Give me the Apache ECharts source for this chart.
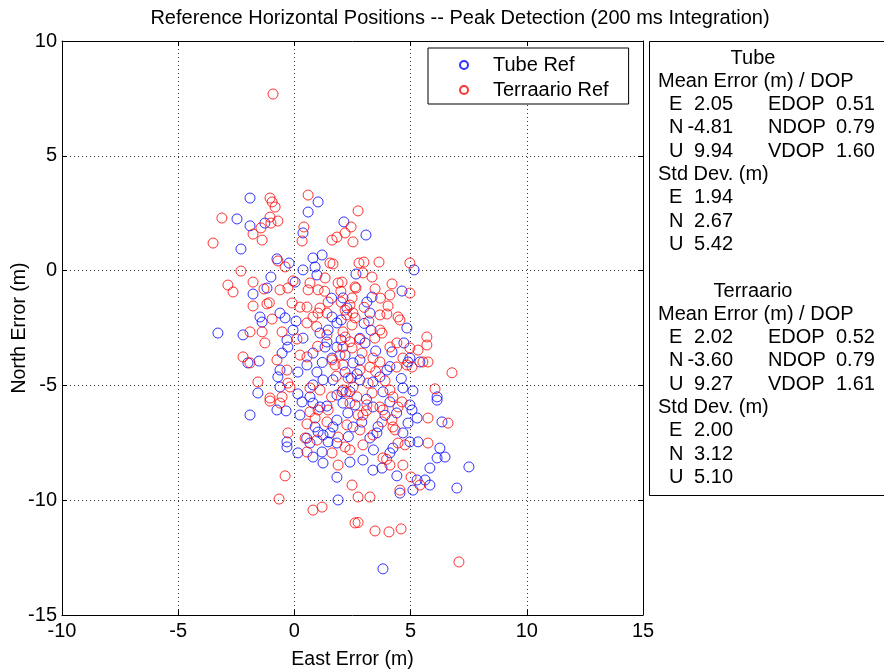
<!DOCTYPE html>
<html>
<head>
<meta charset="utf-8">
<script src="https://cdn.jsdelivr.net/npm/echarts@6/dist/echarts.min.js"></script>
<style>
  html, body { margin: 0; padding: 0; background: #fff; }
  #chart { width: 884px; height: 671px; }
</style>
</head>
<body>
<div id="chart"></div>
<script>
// Horizontal position errors (East, North) in metres
const tubeRef = [
  [-1.91,3.16],[1.02,2.99],[-2.47,2.25],[-1.91,1.95],[-1.27,2.07],[-2.30,0.94],[-0.75,0.51],[-0.23,0.33],
  [0.37,1.64],[0.59,2.55],[0.37,0.03],[0.80,0.55],[0.89,0.16],[1.19,0.68],[0.97,-0.19],[-1.01,-0.28],
  [-1.18,-0.76],[-1.78,-1.02],[0.03,-0.50],[2.13,2.12],[3.08,1.55],[5.15,0.03],[2.65,-0.15],[4.63,-0.89],
  [3.34,-1.15],[2.09,-1.19],[-3.29,-2.72],[-2.21,-2.80],[-1.48,-2.02],[-1.39,-2.24],[-0.62,-1.85],[-0.40,-2.06],
  [-0.06,-2.59],[-0.32,-3.02],[-0.28,-3.33],[-0.53,-3.59],[-2.00,-4.02],[-1.52,-3.94],[-0.62,-4.33],[-0.71,-4.63],
  [-0.62,-5.07],[0.15,-4.42],[0.54,-4.11],[0.97,-4.42],[0.80,-3.59],[1.32,-3.33],[1.10,-2.72],[1.45,-2.59],
  [1.62,-2.02],[1.83,-2.28],[0.37,-2.94],[-1.57,-5.33],[0.15,-5.37],[0.67,-5.50],[0.80,-4.98],[1.23,-4.76],
  [1.66,-4.76],[1.83,-5.42],[1.40,-3.11],[1.83,-3.33],[0.07,-2.20],[1.62,-3.81],[3.25,-1.85],[3.12,-1.37],
  [4.84,-2.50],[4.71,-3.15],[4.20,-3.54],[4.97,-3.81],[5.40,-3.98],[4.89,-3.98],[2.82,-3.89],[2.52,-4.02],
  [2.18,-4.42],[3.04,-3.15],[3.98,-4.33],[3.68,-4.63],[2.05,-5.28],[3.81,-5.28],[4.67,-5.11],[5.10,-5.24],
  [6.14,-5.50],[3.38,-4.85],[2.82,-4.76],[-1.91,-6.29],[-0.75,-6.07],[-0.36,-6.11],[-0.32,-7.46],[-0.32,-7.68],
  [0.24,-6.29],[0.33,-5.72],[0.15,-7.94],[0.80,-8.12],[1.23,-8.38],[1.19,-7.90],[0.89,-6.81],[1.02,-7.03],
  [1.23,-7.16],[1.53,-7.07],[1.66,-6.81],[1.45,-7.46],[1.83,-7.51],[0.67,-7.51],[0.80,-5.77],[1.10,-5.94],
  [1.83,-6.51],[1.83,-9.00],[2.09,-5.77],[2.61,-5.85],[3.38,-5.94],[4.11,-5.72],[4.97,-5.85],[5.06,-6.07],
  [5.28,-6.42],[4.89,-6.64],[4.67,-7.07],[4.97,-7.46],[5.32,-7.46],[3.55,-7.07],[3.25,-7.29],[2.52,-6.81],
  [4.24,-7.73],[4.11,-7.94],[2.39,-8.34],[2.95,-8.25],[3.77,-8.60],[3.38,-8.69],[4.41,-8.94],[5.28,-9.12],
  [5.62,-9.12],[5.83,-9.34],[5.10,-9.56],[6.35,-6.59],[6.26,-7.73],[6.14,-8.16],[6.48,-8.12],[5.83,-8.60],
  [7.51,-8.55],[6.99,-9.47],[4.54,-9.69],[6.14,-5.64],[1.88,-9.99],[3.81,-12.99],
  [2.82,-2.95],[4.11,-4.18],[2.39,-5.27],[0.53,-7.30],[2.32,-7.23],[3.40,-7.81],[2.26,-1.63],[2.01,-2.15],
  [2.18,-3.68],[2.01,-3.02],[2.44,-4.68],[3.00,-2.30],[3.50,-3.50],[2.70,-4.50],[3.10,-5.60],[3.90,-6.30],
  [2.30,-6.20],[1.40,-5.90],[1.20,-4.00],[2.90,-6.60],[3.60,-6.80],[4.40,-6.20],[4.60,-4.70],[3.30,-2.60],
  [1.60,-1.20]
];

const terraarioRef = [
  [-0.92,7.69],[-1.05,3.16],[0.59,3.29],[-3.12,2.29],[-3.50,1.20],[-1.78,1.59],[-1.44,1.86],[-1.39,1.33],
  [-1.05,2.33],[-1.01,2.07],[-0.71,2.16],[-0.96,2.99],[-0.83,2.77],[0.41,1.90],[0.33,1.29],[-0.71,0.42],
  [-0.40,0.16],[-1.78,-0.50],[-2.86,-0.63],[-2.64,-0.93],[-1.31,-0.80],[-0.62,-0.84],[-0.28,-0.76],[-0.06,-0.45],
  [0.67,-0.54],[0.59,-0.84],[1.02,-0.84],[1.32,-0.32],[1.53,0.33],[1.66,0.29],[1.62,1.33],[1.83,1.46],
  [1.88,-0.54],[2.74,2.60],[2.44,1.90],[2.18,1.64],[2.52,1.25],[2.78,0.33],[2.99,0.37],[3.64,0.37],
  [4.97,0.33],[2.95,-0.10],[3.34,-0.28],[2.05,-0.50],[2.61,-0.71],[2.65,-0.76],[3.47,-0.80],[4.20,-0.58],
  [4.11,-1.06],[4.97,-0.98],[2.48,-1.19],[-2.30,-0.02],
  [-1.78,-1.54],[-1.18,-1.45],[-0.10,-1.41],[0.24,-1.59],[0.54,-1.59],[-0.96,-2.11],[-1.91,-2.67],[-1.39,-2.67],
  [-1.27,-3.15],[-2.21,-3.76],[-1.91,-4.02],[-0.75,-3.89],[-0.32,-4.33],[0.24,-3.68],[0.54,-3.76],[0.11,-2.98],
  [-0.53,-2.67],[0.54,-2.28],[0.80,-2.02],[1.02,-1.85],[1.10,-1.63],[1.40,-1.85],[-1.57,-4.85],[-0.28,-4.90],
  [-0.19,-5.07],[-1.05,-5.55],[-0.53,-5.50],[0.67,-5.11],[1.62,-3.89],[1.75,-4.11],[1.10,-5.20],[1.45,-1.37],
  [4.03,-1.54],[3.68,-1.93],[3.98,-1.89],[4.46,-2.02],[4.54,-2.15],[3.68,-2.59],[3.77,-2.72],[3.46,-2.94],
  [2.39,-1.50],[2.52,-1.85],[2.61,-2.06],[2.48,-2.37],[2.09,-2.67],[2.18,-2.89],[2.09,-3.33],[2.48,-3.37],
  [2.91,-3.59],[3.38,-3.81],[3.68,-3.98],[4.11,-3.33],[4.41,-3.15],[4.67,-3.81],[4.97,-3.37],[5.32,-3.46],
  [5.70,-2.89],[5.70,-3.24],[5.53,-3.98],[5.75,-3.98],[4.84,-4.11],[5.06,-4.20],[6.78,-4.45],[6.05,-5.15],
  [3.25,-4.20],[2.82,-4.33],[2.31,-4.68],[2.52,-5.07],[3.17,-4.90],[3.34,-5.33],[2.69,-5.50],[2.09,-5.20],
  [4.11,-5.20],[4.24,-5.50],[2.09,-4.11],
  [-1.05,-5.68],[-0.62,-5.77],[-0.28,-7.07],[0.46,-7.29],[0.54,-7.90],[0.54,-6.68],[0.67,-6.15],[1.02,-6.07],
  [0.89,-6.42],[1.45,-6.07],[1.40,-6.59],[0.97,-7.38],[1.62,-7.94],[1.88,-7.25],[1.88,-8.47],[-0.40,-8.94],
  [-0.66,-9.95],
  [2.39,-5.77],[3.12,-5.85],[3.68,-5.94],[3.81,-6.07],[4.46,-5.94],[4.63,-5.72],[2.74,-6.29],[2.95,-6.29],
  [3.77,-6.59],[4.20,-6.50],[4.24,-6.81],[2.26,-6.72],[2.82,-6.94],[2.18,-7.68],[2.39,-7.81],[2.95,-7.59],
  [3.81,-8.16],[4.11,-8.47],[4.67,-8.47],[4.46,-7.51],[4.76,-7.59],[5.75,-6.42],[5.75,-7.51],[6.61,-6.64],
  [5.02,-8.99],[5.40,-9.34],[4.54,-9.56],[2.48,-9.34],[2.74,-9.86],[3.25,-9.86],[3.38,-7.16],
  [0.80,-10.43],[1.19,-10.30],[2.61,-10.99],[2.74,-10.97],[3.47,-11.34],[4.07,-11.38],[4.59,-11.25],[7.08,-12.69],
  [2.25,-1.93],[2.39,-3.10],[0.96,-2.44],[-1.08,-1.40],[4.33,-6.94],[3.97,-8.22],[2.01,-1.37],[2.18,-1.72],
  [1.96,-3.68],[2.22,-5.29],[3.00,-1.60],[3.20,-2.20],[2.80,-3.00],[3.50,-4.40],[1.40,-2.80],[1.00,-3.30],
  [3.90,-4.80],[4.40,-4.20],[2.00,-0.90],[3.70,-1.20],[1.30,-0.90],[1.80,-4.60],[3.10,-6.10],[1.60,-5.50]
];

// Summary statistics shown in the side panel
const statBlocks = [
  { name: 'Tube',      mean: ['2.05', '-4.81', '9.94'], dop: ['0.51', '0.79', '1.60'], std: ['1.94', '2.67', '5.42'] },
  { name: 'Terraario', mean: ['2.02', '-3.60', '9.27'], dop: ['0.52', '0.79', '1.61'], std: ['2.00', '3.12', '5.10'] }
];
const axisLetters = ['E', 'N', 'U'];
const dopNames = ['EDOP', 'NDOP', 'VDOP'];

const FONT = '"Liberation Sans", Arial, Helvetica, sans-serif';
const FS = 20;

function txt(text, x, y, align) {
  return {
    type: 'text',
    style: {
      text: text, x: x, y: y,
      font: FS + 'px ' + FONT,
      fill: '#000',
      align: align || 'left', verticalAlign: 'middle',
      textAlign: align || 'left', textVerticalAlign: 'middle'
    }
  };
}

// Statistics panel: boxed text block to the right of the plot
const panel = [{
  type: 'rect',
  shape: { x: 649.5, y: 41.5, width: 250, height: 454 },
  style: { fill: '#fff', stroke: '#000', lineWidth: 1 }
}];
const lineH = 23.3;
statBlocks.forEach(function (b, bi) {
  const y0 = 58 + bi * 10 * lineH;
  panel.push(txt(b.name, 753, y0, 'center'));
  panel.push(txt('Mean Error (m) / DOP', 658, y0 + lineH));
  for (let i = 0; i < 3; i++) {
    const y = y0 + (2 + i) * lineH;
    panel.push(txt(axisLetters[i], 669, y));
    panel.push(txt(b.mean[i], 733, y, 'right'));
    panel.push(txt(dopNames[i], 768, y));
    panel.push(txt(b.dop[i], 836, y));
  }
  panel.push(txt('Std Dev. (m)', 658, y0 + 5 * lineH));
  for (let i = 0; i < 3; i++) {
    const y = y0 + (6 + i) * lineH;
    panel.push(txt(axisLetters[i], 669, y));
    panel.push(txt(b.std[i], 733, y, 'right'));
  }
});

const chart = echarts.init(document.getElementById('chart'), null, { renderer: 'canvas' });

const tickStyle = { show: true, inside: true, length: 5, lineStyle: { color: '#000', width: 1 } };
const lineStyle = { show: true, onZero: false, lineStyle: { color: '#000', width: 1 } };
const gridLine = { show: true, lineStyle: { color: '#333', width: 1, type: [1, 3] } };
const labelStyle = { color: '#000', fontSize: FS, fontFamily: FONT };

chart.setOption({
  animation: false,
  backgroundColor: '#fff',
  title: {
    text: 'Reference Horizontal Positions -- Peak Detection (200 ms Integration)',
    left: 460, top: 8, padding: 0, textAlign: 'center',
    textStyle: { color: '#000', fontSize: 20, fontWeight: 'normal', fontFamily: FONT }
  },
  grid: { left: 62, top: 41, width: 581, height: 574, containLabel: false, outerBoundsMode: 'none' },
  xAxis: [
    {
      type: 'value', min: -10, max: 15, interval: 5, position: 'bottom',
      axisLine: lineStyle, axisTick: tickStyle, splitLine: gridLine,
      axisLabel: Object.assign({ margin: 6 }, labelStyle),
      name: 'East Error (m)', nameLocation: 'middle', nameGap: 35,
      nameTextStyle: { color: '#000', fontSize: 19.5, fontFamily: FONT }
    },
    {
      type: 'value', min: -10, max: 15, interval: 5, position: 'top',
      axisLine: lineStyle, axisTick: tickStyle, splitLine: { show: false }, axisLabel: { show: false }
    }
  ],
  yAxis: [
    {
      type: 'value', min: -15, max: 10, interval: 5, position: 'left',
      axisLine: lineStyle, axisTick: tickStyle, splitLine: gridLine,
      axisLabel: Object.assign({ margin: 5 }, labelStyle),
      name: 'North Error (m)', nameLocation: 'middle', nameGap: 32, nameRotate: 90,
      nameMoveOverlap: false,
      nameTextStyle: { color: '#000', fontSize: 19.5, fontFamily: FONT }
    },
    {
      type: 'value', min: -15, max: 10, interval: 5, position: 'right',
      axisLine: lineStyle, axisTick: tickStyle, splitLine: { show: false }, axisLabel: { show: false }
    }
  ],
  legend: {
    orient: 'vertical',
    left: 428, top: 48,
    padding: [7, 20, 4, 31],
    itemGap: 5,
    itemWidth: 48, itemHeight: 8,
    backgroundColor: '#fff', borderColor: '#000', borderWidth: 1, borderRadius: 0,
    itemStyle: { borderWidth: 2 },
    textStyle: { color: '#000', fontSize: FS, fontFamily: FONT, lineHeight: 20 },
    data: [
      { name: 'Tube Ref', itemStyle: { borderWidth: 2 } },
      { name: 'Terraario Ref', itemStyle: { borderWidth: 2 } }
    ]
  },
  series: [
    {
      name: 'Tube Ref', type: 'scatter', xAxisIndex: 0, yAxisIndex: 0,
      symbol: 'circle', symbolSize: 10,
      itemStyle: { color: 'rgba(0,0,0,0)', borderColor: '#0000ff', borderWidth: 1 },
      emphasis: { disabled: true },
      data: tubeRef
    },
    {
      name: 'Terraario Ref', type: 'scatter', xAxisIndex: 0, yAxisIndex: 0,
      symbol: 'circle', symbolSize: 10,
      itemStyle: { color: 'rgba(0,0,0,0)', borderColor: '#ff0000', borderWidth: 1 },
      emphasis: { disabled: true },
      data: terraarioRef
    }
  ],
  graphic: panel
});
</script>
</body>
</html>
